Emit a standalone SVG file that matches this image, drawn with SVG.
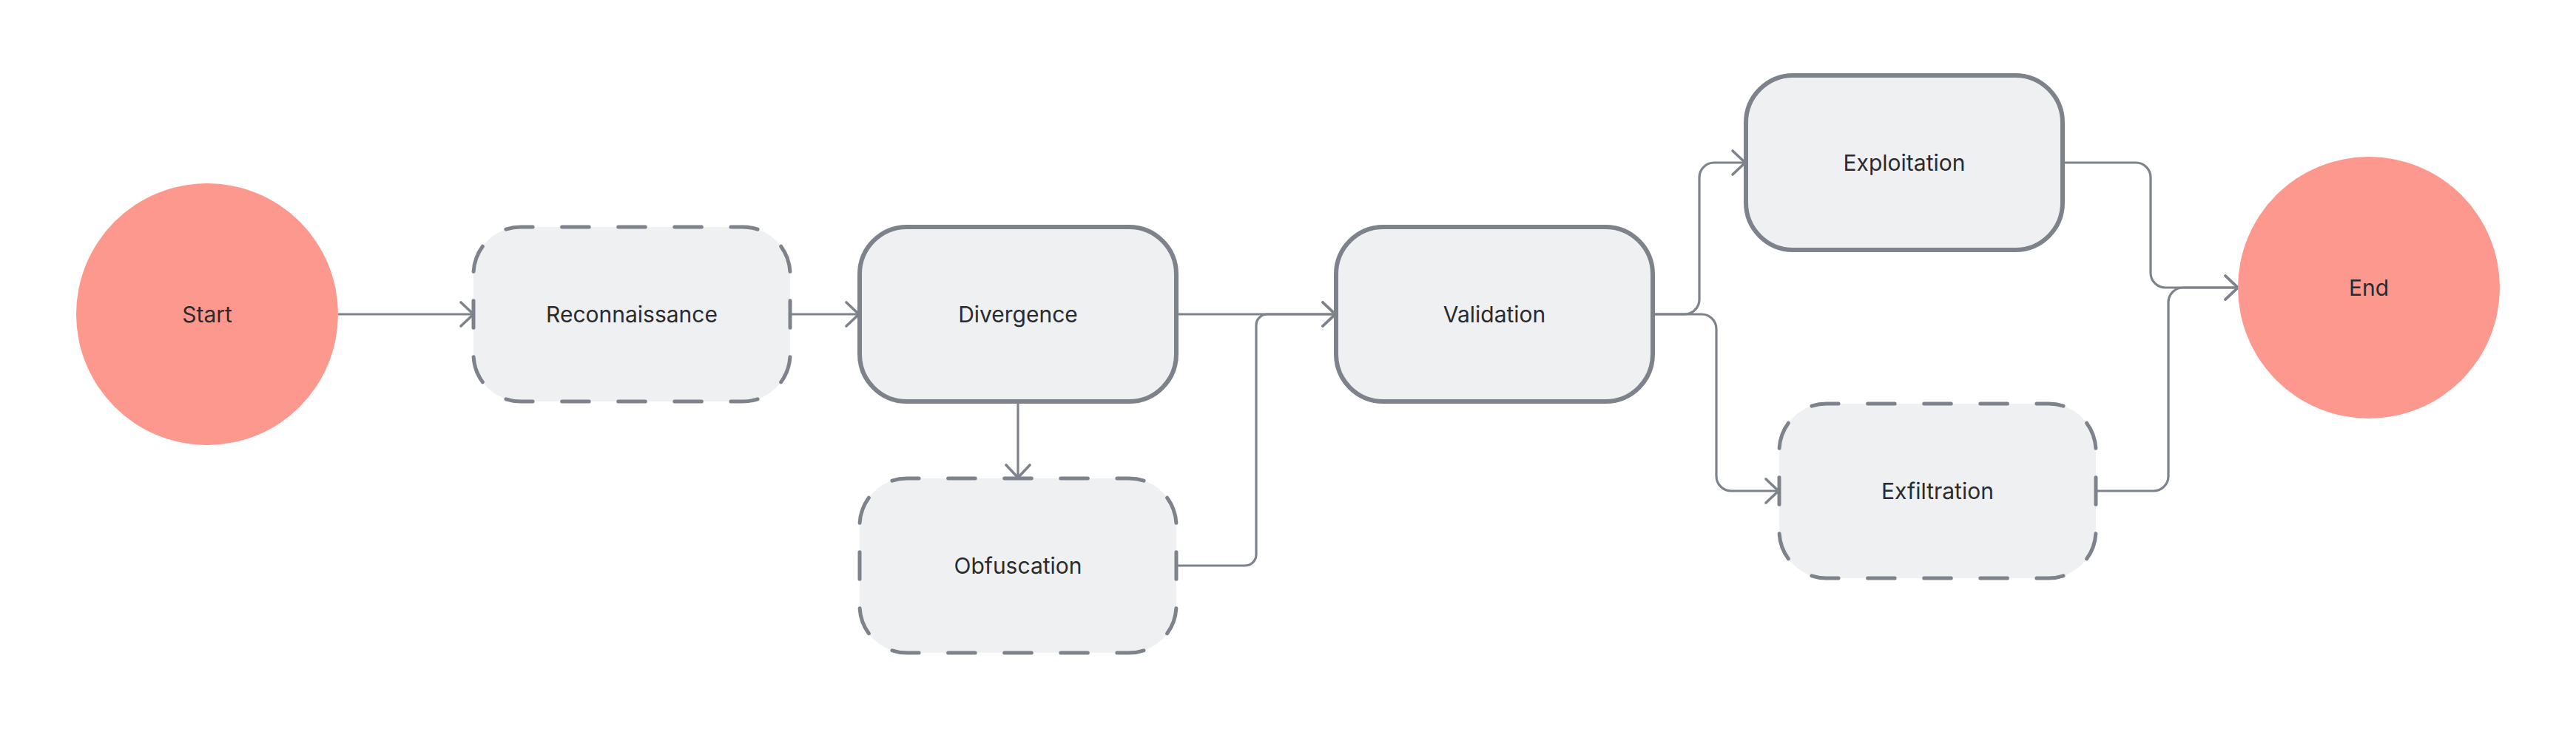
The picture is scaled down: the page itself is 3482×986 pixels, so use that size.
<svg xmlns="http://www.w3.org/2000/svg" width="3482" height="986" viewBox="0 0 3482 986">
<defs>
<style>
.bg{fill:#ffffff}
.term{fill:#fc988e}
.box{fill:#eff0f2;stroke:#7e838b;stroke-width:6}
.dash{fill:#eff0f2;stroke:#7e838b;stroke-width:5;stroke-linecap:round;stroke-dasharray:48 52;stroke-dashoffset:24}
.lbl{font-family:Inter,"Noto Sans","Liberation Sans",sans-serif;font-size:30px;fill:#2a2b2e;text-anchor:middle}
.conn{fill:none;stroke:#7e838b;stroke-width:3.2;stroke-linecap:round;stroke-linejoin:round;marker-end:url(#arr)}
</style>
<marker id="arr" markerUnits="userSpaceOnUse" viewBox="-22 -20 26 40" markerWidth="26" markerHeight="40" refX="0" refY="0" orient="auto" overflow="visible">
<path d="M-17,-16 L0,0 L-17,16" fill="none" stroke="#7e838b" stroke-width="3.6" stroke-linecap="round" stroke-linejoin="round"/>
</marker>
</defs>
<rect class="bg" x="0" y="0" width="3482" height="986"/>
<g id="connectors">
<path class="conn" d="M458,425 H640"/>
<path class="conn" d="M1068,425 H1161"/>
<path class="conn" d="M1376,543 V646"/>
<path class="conn" d="M1590,425 H1805"/>
<path class="conn" d="M1590,765 H1683 A15,15 0 0 0 1698,750 V440 A15,15 0 0 1 1713,425 H1805"/>
<path class="conn" d="M2234,425 H2277 A20,20 0 0 0 2297,405 V240 A20,20 0 0 1 2317,220 H2359"/>
<path class="conn" d="M2234,425 H2300 A20,20 0 0 1 2320,445 V644 A20,20 0 0 0 2340,664 H2404"/>
<path class="conn" d="M2788,220 H2887 A20,20 0 0 1 2907,240 V369 A20,20 0 0 0 2927,389 H3025"/>
<path class="conn" d="M2833,664 H2911 A20,20 0 0 0 2931,644 V409 A20,20 0 0 1 2951,389 H3025"/>
</g>
<g id="start">
<circle class="term" cx="280" cy="425" r="177"/>
<text class="lbl" x="280" y="436">Start</text>
</g>
<g id="reconnaissance">
<path class="dash" pathLength="1600" d="M640,425 V371 A64,64 0 0 1 704,307 H1004 A64,64 0 0 1 1068,371 V479 A64,64 0 0 1 1004,543 H704 A64,64 0 0 1 640,479 Z"/>
<text class="lbl" x="854" y="436">Reconnaissance</text>
</g>
<g id="divergence">
<rect class="box" x="1162" y="307" width="428" height="236" rx="64" ry="64"/>
<text class="lbl" x="1376" y="436">Divergence</text>
</g>
<g id="obfuscation">
<path class="dash" pathLength="1600" d="M1162,765 V711 A64,64 0 0 1 1226,647 H1526 A64,64 0 0 1 1590,711 V819 A64,64 0 0 1 1526,883 H1226 A64,64 0 0 1 1162,819 Z"/>
<text class="lbl" x="1376" y="776">Obfuscation</text>
</g>
<g id="validation">
<rect class="box" x="1806" y="307" width="428" height="236" rx="64" ry="64"/>
<text class="lbl" x="2020" y="436">Validation</text>
</g>
<g id="exploitation">
<rect class="box" x="2360" y="102" width="428" height="236" rx="64" ry="64"/>
<text class="lbl" x="2574" y="231">Exploitation</text>
</g>
<g id="exfiltration">
<path class="dash" pathLength="1600" d="M2405,664 V610 A64,64 0 0 1 2469,546 H2769 A64,64 0 0 1 2833,610 V718 A64,64 0 0 1 2769,782 H2469 A64,64 0 0 1 2405,718 Z"/>
<text class="lbl" x="2619" y="675">Exfiltration</text>
</g>
<g id="end">
<circle class="term" cx="3202" cy="389" r="177"/>
<text class="lbl" x="3202" y="400">End</text>
</g>
</svg>
